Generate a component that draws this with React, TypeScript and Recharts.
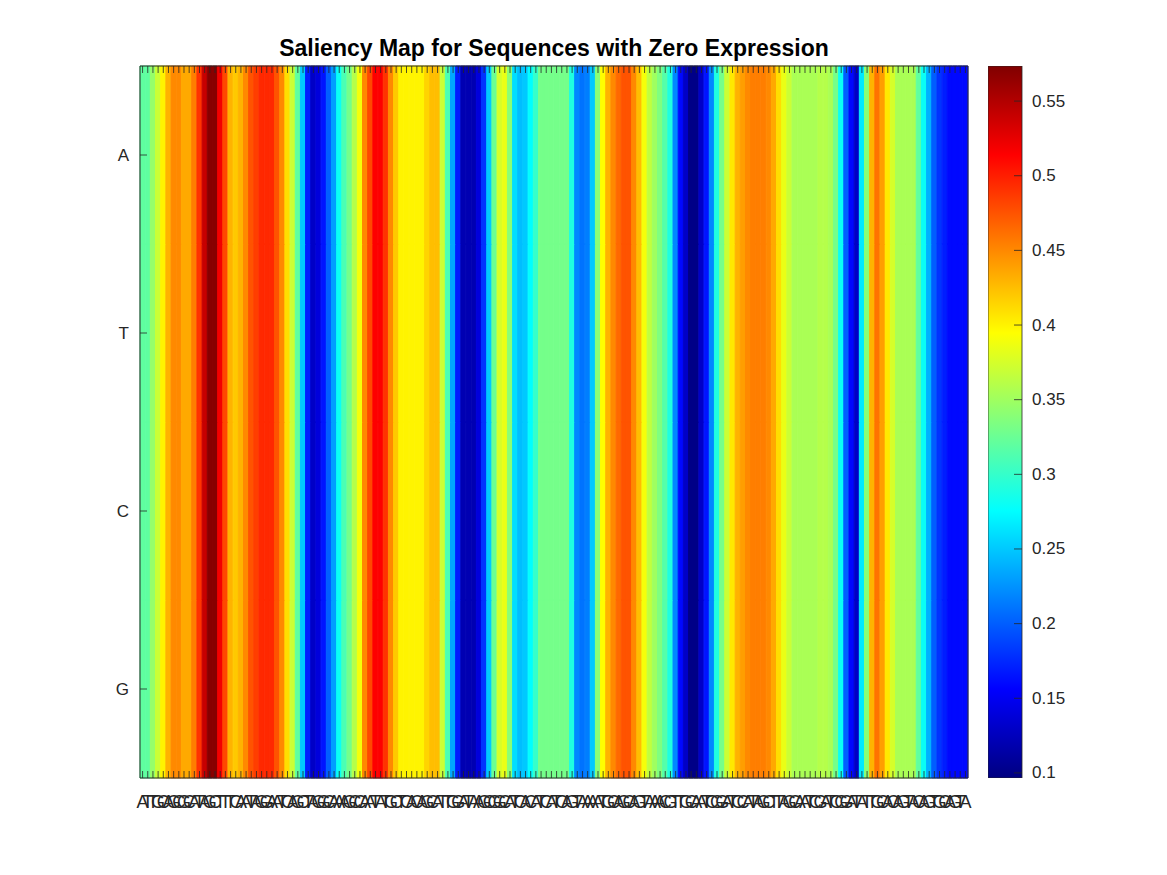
import React from 'react';
import { BarChart, Bar, XAxis, YAxis, Cell } from 'recharts';

// sequence positions (tick labels along the bottom)
const bases = (
  'ATTGCAGCGC' + 'ATAGCTTTCA' + 'ATAGGAATCA' + 'GCTAGGCAAA' +
  'GCCAATATGC' + 'TCACAGCATT' + 'GGATAAGCGG' + 'CATCACATCA' +
  'TCAGTAAAAT' + 'GCAGCAGTAA' + 'ACGTTGCAAT' + 'CGGATCCATA' +
  'GCTTAGCAAT' + 'CGATCGGATA' + 'TTGCACAGTA' + 'CAGTGCAGTA'
).split('');

// rows, top to bottom
const rowNames = ['A', 'T', 'C', 'G'];

// saliency per position (same for every row)
const saliency = [
  0.32, 0.32, 0.345, 0.37, 0.40, 0.43, 0.45, 0.45, 0.435, 0.435,
  0.455, 0.49, 0.54, 0.57, 0.57, 0.52, 0.48, 0.43, 0.42, 0.43,
  0.45, 0.475, 0.485, 0.495, 0.495, 0.495, 0.475, 0.45, 0.41, 0.37,
  0.32, 0.25, 0.17, 0.13, 0.14, 0.165, 0.2, 0.23, 0.28, 0.31,
  0.33, 0.36, 0.39, 0.45, 0.48, 0.515, 0.515, 0.49, 0.45, 0.42,
  0.40, 0.40, 0.40, 0.40, 0.40, 0.415, 0.425, 0.425, 0.37, 0.31,
  0.235, 0.17, 0.12, 0.12, 0.12, 0.14, 0.18, 0.25, 0.325, 0.375,
  0.385, 0.34, 0.26, 0.245, 0.25, 0.275, 0.30, 0.33, 0.33, 0.33,
  0.33, 0.33, 0.33, 0.29, 0.22, 0.21, 0.215, 0.25, 0.34, 0.395,
  0.43, 0.45, 0.465, 0.475, 0.475, 0.45, 0.425, 0.39, 0.365, 0.35,
  0.335, 0.315, 0.29, 0.22, 0.16, 0.13, 0.10, 0.10, 0.13, 0.165,
  0.22, 0.29, 0.33, 0.37, 0.405, 0.43, 0.44, 0.45, 0.455, 0.455,
  0.455, 0.45, 0.435, 0.41, 0.385, 0.37, 0.355, 0.355, 0.355, 0.355,
  0.355, 0.36, 0.36, 0.355, 0.33, 0.28, 0.20, 0.16, 0.13, 0.265,
  0.34, 0.43, 0.46, 0.44, 0.405, 0.375, 0.355, 0.355, 0.355, 0.355,
  0.32, 0.28, 0.24, 0.2, 0.18, 0.17, 0.16, 0.16, 0.16, 0.16,
];

const cbTicks = [0.1, 0.15, 0.2, 0.25, 0.3, 0.35, 0.4, 0.45, 0.5, 0.55];
const vMin = 0.0966;
const vMax = 0.5735;

const clamp = (n: number) => Math.max(0, Math.min(1, n));
const jet = (v: number) => {
  const t = clamp((v - vMin) / (vMax - vMin));
  const r = clamp(1.5 - Math.abs(4 * t - 3));
  const g = clamp(1.5 - Math.abs(4 * t - 2));
  const b = clamp(1.5 - Math.abs(4 * t - 1));
  const h = (n: number) => Math.round(n * 255).toString(16).padStart(2, '0');
  return '#' + h(r) + h(g) + h(b);
};

const table = bases.map((b, i) => {
  const row: any = { pos: i, base: b, v: saliency[i] };
  rowNames.forEach(r => (row[r] = 1));
  return row;
});

const rowTicks = [0.5, 1.5, 2.5, 3.5];
const rowLabel = (t: number) => rowNames[3 - Math.floor(t)];

const INK = '#262626';
const FONT = '"Liberation Sans", Arial, Helvetica, sans-serif';

const BottomTick = ({ x, y, payload }: any) => (
  <g>
    <line x1={x} y1={y} x2={x} y2={y - 7} stroke={INK} strokeWidth={0.8} />
    <text x={x} y={y + 30} textAnchor="middle" fontSize={18} fill={INK} fontFamily={FONT}>
      {bases[payload.value]}
    </text>
  </g>
);

const TopTick = ({ x, y }: any) => (
  <line x1={x} y1={y} x2={x} y2={y + 7} stroke={INK} strokeWidth={0.8} />
);

const LeftTick = ({ x, y, payload }: any) => (
  <g>
    <line x1={x} y1={y} x2={x + 7} y2={y} stroke={INK} strokeWidth={0.8} />
    <text x={x - 11} y={y} textAnchor="end" dominantBaseline="central" fontSize={17} fill={INK} fontFamily={FONT}>
      {rowLabel(payload.value)}
    </text>
  </g>
);

const RightTick = ({ x, y }: any) => (
  <line x1={x} y1={y} x2={x - 7} y2={y} stroke={INK} strokeWidth={0.8} />
);

const BarTick = ({ x, y, payload }: any) => (
  <g>
    <line x1={x} y1={y} x2={x - 8} y2={y} stroke={INK} strokeWidth={0.8} />
    <text x={x + 10} y={y} dominantBaseline="central" fontSize={17} fill={INK} fontFamily={FONT}>
      {String(payload.value)}
    </text>
  </g>
);

const App = () => {
  return (
    <div style={{ position: 'absolute', left: 0, top: 0, width: 1167, height: 875, background: '#fff', fontFamily: FONT }}>
      <div style={{ position: 'absolute', left: 140, width: 828, top: 35, textAlign: 'center', fontWeight: 'bold', fontSize: 23, color: '#000' }}>
        Saliency Map for Sequences with Zero Expression
      </div>
      <div style={{ position: 'absolute', left: 0, top: 0 }}>
        <BarChart width={1167} height={875} data={table}
          margin={{ top: 65, right: 198, bottom: 67, left: 110 }}
          barCategoryGap={0} barGap={0}>
          {rowNames.slice().reverse().map(r => (
            <Bar key={r} dataKey={r} stackId="s" xAxisId="b" yAxisId="l" isAnimationActive={false}>
              {table.map((d: any) => (
                <Cell key={d.pos} fill={jet(d.v)} stroke={jet(d.v)} strokeWidth={1} />
              ))}
            </Bar>
          ))}
          <XAxis xAxisId="b" dataKey="pos" type="category" interval={0} height={30}
            tickSize={0} tickMargin={0} tickLine={false} stroke={INK} tick={<BottomTick />} />
          <XAxis xAxisId="t" dataKey="pos" type="category" orientation="top" interval={0} height={1}
            tickSize={0} tickMargin={0} tickLine={false} stroke={INK} tick={<TopTick />} />
          <YAxis yAxisId="l" type="number" domain={[0, 4]} ticks={rowTicks} width={30}
            tickSize={0} tickMargin={0} tickLine={false} stroke={INK} tick={<LeftTick />} />
          <YAxis yAxisId="r" type="number" orientation="right" domain={[0, 4]} ticks={rowTicks} width={1}
            tickSize={0} tickMargin={0} tickLine={false} stroke={INK} tick={<RightTick />} />
        </BarChart>
      </div>
      <div style={{ position: 'absolute', left: 988, top: 0 }}>
        <BarChart width={100} height={875} data={[{ name: 'cb', range: [vMin, vMax] }]}
          margin={{ top: 66, right: 65, bottom: 97, left: 0 }} barCategoryGap={0}>
          <defs>
            <linearGradient id="jetGrad" x1="0" y1="0" x2="0" y2="1">
              <stop offset="0" stopColor="#800000" />
              <stop offset="0.125" stopColor="#ff0000" />
              <stop offset="0.375" stopColor="#ffff00" />
              <stop offset="0.625" stopColor="#00ffff" />
              <stop offset="0.875" stopColor="#0000ff" />
              <stop offset="1" stopColor="#000080" />
            </linearGradient>
          </defs>
          <Bar dataKey="range" fill="url(#jetGrad)" stroke={INK} strokeWidth={0.8} isAnimationActive={false} />
          <XAxis dataKey="name" hide height={0} />
          <YAxis type="number" orientation="right" domain={[vMin, vMax]} ticks={cbTicks} width={1}
            allowDataOverflow axisLine={false} tickSize={0} tickMargin={0} tickLine={false} tick={<BarTick />} />
        </BarChart>
      </div>
    </div>
  );
};

export default App;
